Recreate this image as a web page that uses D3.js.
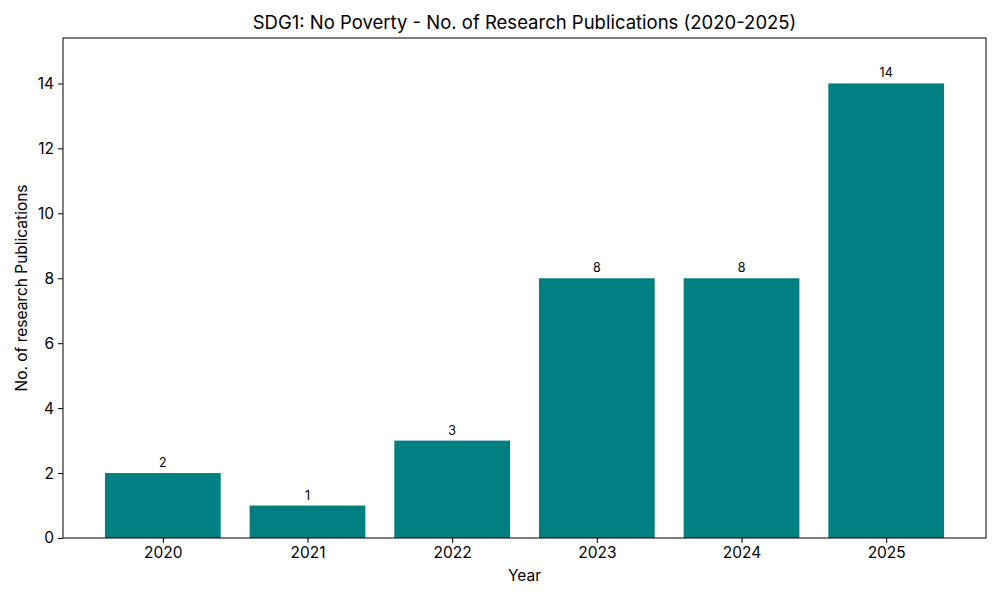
<!DOCTYPE html>
<html>
<head>
  <meta charset="utf-8">
  <style>
    body { margin: 0; background: #fff; }
    svg text { font-family: "Inter", "Roboto", sans-serif; fill: #000; }
    svg .tick text { font-size: 15.5px; }
    svg .domain { stroke: none; }
    svg .tick line { stroke: #000; stroke-width: 1px; }
  </style>
</head>
<body>
<script src="https://d3js.org/d3.v7.min.js"></script>
<script>
  // data
  var years = ["2020", "2021", "2022", "2023", "2024", "2025"];
  var counts = [2, 1, 3, 8, 8, 14];
  var yTicks = [0, 2, 4, 6, 8, 10, 12, 14];

  var W = 1000, H = 600;
  var margin = { top: 38, right: 14, bottom: 62, left: 63 };
  var width = W - margin.left - margin.right,
      height = H - margin.top - margin.bottom;

  var svg = d3.select("body")
    .append("svg")
      .attr("width", W)
      .attr("height", H);

  var g = svg.append("g")
      .attr("transform", "translate(" + margin.left + "," + margin.top + ")");

  // matplotlib-like: bars at integer positions, width 0.8, 5% margins
  var lo = -0.4, hi = years.length - 1 + 0.4, pad = (hi - lo) * 0.05;
  var xScale = d3.scaleLinear().domain([lo - pad, hi + pad]).range([0, width]);
  var yScale = d3.scaleLinear().domain([0, d3.max(counts) * 1.1]).range([height, 0]);

  // bars
  g.selectAll("rect.bar")
    .data(counts)
    .enter().append("rect")
      .attr("class", "bar")
      .attr("x", function (d, i) { return xScale(i - 0.4); })
      .attr("width", function (d, i) { return xScale(i + 0.4) - xScale(i - 0.4); })
      .attr("y", function (d) { return yScale(d); })
      .attr("height", function (d) { return height - yScale(d); })
      .style("fill", "#008080");

  // value labels
  g.selectAll("text.val")
    .data(counts)
    .enter().append("text")
      .attr("class", "val")
      .attr("x", function (d, i) { return xScale(i); })
      .attr("y", function (d) { return yScale(d) - 6; })
      .attr("text-anchor", "middle")
      .style("font-size", "12.5px")
      .text(function (d) { return d; });

  // x axis
  var xAxis = d3.axisBottom(xScale)
    .tickValues(d3.range(years.length))
    .tickFormat(function (i) { return years[i]; })
    .tickSizeInner(5)
    .tickSizeOuter(0)
    .tickPadding(4);

  g.append("g")
      .attr("transform", "translate(0," + height + ")")
      .call(xAxis);

  // y axis
  var yAxis = d3.axisLeft(yScale)
    .tickValues(yTicks)
    .tickSizeInner(5)
    .tickSizeOuter(0)
    .tickPadding(4);

  g.append("g").call(yAxis);

  // frame (all four spines)
  g.append("rect")
      .attr("x", 0).attr("y", 0)
      .attr("width", width).attr("height", height)
      .style("fill", "none")
      .style("stroke", "#000")
      .style("stroke-width", "1px");

  // title and axis labels
  svg.append("text")
      .attr("x", margin.left + width / 2)
      .attr("y", 29)
      .attr("text-anchor", "middle")
      .style("font-size", "18.5px")
      .text("SDG1: No Poverty - No. of Research Publications (2020-2025)");

  svg.append("text")
      .attr("x", margin.left + width / 2)
      .attr("y", 581)
      .attr("text-anchor", "middle")
      .style("font-size", "15.5px")
      .text("Year");

  svg.append("text")
      .attr("transform", "translate(27," + (margin.top + height / 2) + ") rotate(-90)")
      .attr("text-anchor", "middle")
      .style("font-size", "15.5px")
      .text("No. of research Publications");
</script>
</body>
</html>
